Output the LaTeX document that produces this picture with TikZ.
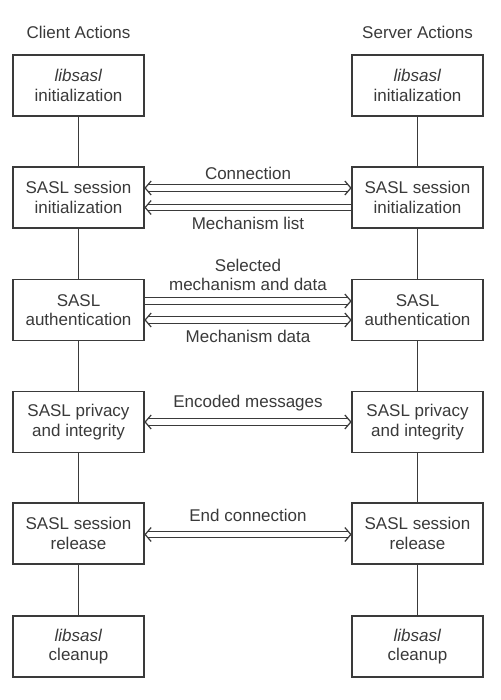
\documentclass[tikz,border=0pt]{standalone}
\usepackage{fontspec}
\setmainfont{Liberation Sans}
\usetikzlibrary{calc}
\definecolor{ink}{HTML}{3A3A3A}
\newcommand\tipL[1]{\draw[tipline] ($(#1)+(6.5,-7)$) -- ($(#1)+(0.5,0)$) -- ($(#1)+(6.5,7)$);}
\newcommand\tipR[1]{\draw[tipline] ($(#1)+(-6.5,-7)$) -- ($(#1)+(-0.5,0)$) -- ($(#1)+(-6.5,7)$);}
\begin{document}
\begin{tikzpicture}[x=1pt,y=-1pt,
  txt/.style={font=\fontsize{17}{19.5}\selectfont, text=ink, align=center, inner sep=0pt},
  box/.style={txt, draw=ink, line width=1.3pt, minimum width=131pt, minimum height=61pt},
  link/.style={draw=ink, line width=1.3pt},
  dbl/.style={draw=ink, line width=1.2pt, double=white, double distance=5.5pt},
  tipline/.style={draw=ink, line width=1.2pt, line join=miter},
  sl/.style={shorten <=3pt},
  sr/.style={shorten >=3pt}]
\useasboundingbox[fill=white] (0,0) rectangle (500,700);

\node[txt] (hc) at (78.5,32) {Client Actions};
\node[txt] (hs) at (417.5,32) {Server Actions};

\node[box] (c1) at (78.5,85.5) {\textit{libsasl}\\initialization};
\node[box] (c2) at (78.5,197.5) {SASL session\\initialization};
\node[box] (c3) at (78.5,310) {SASL\\authentication};
\node[box] (c4) at (78.5,422) {SASL privacy\\and integrity};
\node[box] (c5) at (78.5,533.5) {SASL session\\release};
\node[box] (c6) at (78.5,646.5) {\textit{libsasl}\\cleanup};

\node[box] (s1) at (417.5,85.5) {\textit{libsasl}\\initialization};
\node[box] (s2) at (417.5,197.5) {SASL session\\initialization};
\node[box] (s3) at (417.5,310) {SASL\\authentication};
\node[box] (s4) at (417.5,422) {SASL privacy\\and integrity};
\node[box] (s5) at (417.5,533.5) {SASL session\\release};
\node[box] (s6) at (417.5,646.5) {\textit{libsasl}\\cleanup};

\foreach \a/\b in {1/2,2/3,3/4,4/5,5/6}{
  \draw[link] (c\a) -- (c\b);
  \draw[link] (s\a) -- (s\b);
}

\coordinate (a1l) at ([yshift=9.5pt]c2.east);  \coordinate (a1r) at ([yshift=9.5pt]s2.west);
\coordinate (a2l) at ([yshift=-10pt]c2.east);  \coordinate (a2r) at ([yshift=-10pt]s2.west);
\coordinate (a3l) at ([yshift=9pt]c3.east);    \coordinate (a3r) at ([yshift=9pt]s3.west);
\coordinate (a4l) at ([yshift=-10pt]c3.east);  \coordinate (a4r) at ([yshift=-10pt]s3.west);
\coordinate (a5l) at (c4.east);                \coordinate (a5r) at (s4.west);
\coordinate (a6l) at ([yshift=-1pt]c5.east);   \coordinate (a6r) at ([yshift=-1pt]s5.west);

\draw[dbl, sl, sr] (a1l) -- (a1r); \tipL{a1l} \tipR{a1r}
\draw[dbl, sl] (a2l) -- (a2r);     \tipL{a2l}
\draw[dbl, sr] (a3l) -- (a3r);     \tipR{a3r}
\draw[dbl, sl, sr] (a4l) -- (a4r); \tipL{a4l} \tipR{a4r}
\draw[dbl, sl, sr] (a5l) -- (a5r); \tipL{a5l} \tipR{a5r}
\draw[dbl, sl, sr] (a6l) -- (a6r); \tipL{a6l} \tipR{a6r}

\node[txt] (l1) at (248,173) {Connection};
\node[txt] (l2) at (248,223) {Mechanism list};
\node[txt] (l3) at (248,275) {Selected\\mechanism and data};
\node[txt] (l4) at (248,336) {Mechanism data};
\node[txt] (l5) at (248,403) {Encoded messages};
\node[txt] (l6) at (248,515) {End connection};
\end{tikzpicture}
\end{document}
